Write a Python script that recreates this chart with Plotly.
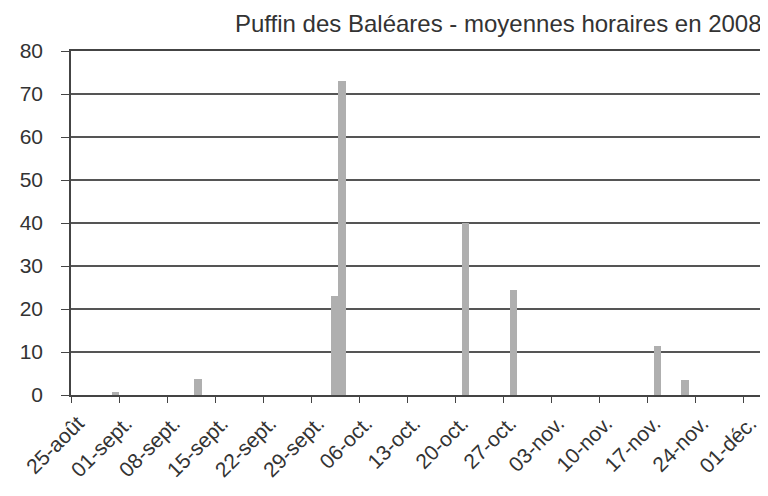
import plotly.graph_objects as go

# Data
bar_dates = ["2008-08-31", "2008-09-12", "2008-10-02", "2008-10-03",
             "2008-10-21", "2008-10-28", "2008-11-18", "2008-11-22"]
bar_values = [0.8, 3.8, 23, 73, 40, 24.5, 11.5, 3.5]

tick_dates = ["2008-08-25", "2008-09-01", "2008-09-08", "2008-09-15", "2008-09-22",
              "2008-09-29", "2008-10-06", "2008-10-13", "2008-10-20", "2008-10-27",
              "2008-11-03", "2008-11-10", "2008-11-17", "2008-11-24", "2008-12-01"]
tick_labels = ["25-août", "01-sept.", "08-sept.", "15-sept.", "22-sept.",
               "29-sept.", "06-oct.", "13-oct.", "20-oct.", "27-oct.",
               "03-nov.", "10-nov.", "17-nov.", "24-nov.", "01-déc."]

title_text = "Puffin des Baléares - moyennes horaires en 2008"

DAY_MS = 86400000

fig = go.Figure()
fig.add_trace(go.Bar(
    x=bar_dates, y=bar_values,
    xperiod=DAY_MS, xperiodalignment="middle",
    width=1.1 * DAY_MS,
    marker=dict(color="#afafaf", line=dict(width=0)),
))

axis_font = dict(family="Liberation Sans, Arial, sans-serif", size=21, color="#333333")

# page body has an 8px margin, so the figure is sized to fit the window
fig.update_layout(
    width=760, height=488,
    margin=dict(l=63, r=4, t=43, b=101),
    paper_bgcolor="white", plot_bgcolor="white",
    showlegend=False,
    bargap=0,
    xaxis=dict(
        type="date", automargin=False,
        range=["2008-08-25", "2008-12-04"],
        tickmode="array", tickvals=tick_dates, ticktext=tick_labels,
        tickangle=-45, tickfont=axis_font, ticklabelshift=7,
        ticks="outside", ticklen=6, tickcolor="#444444", tickwidth=1.2,
        showgrid=False, zeroline=False,
        showline=True, linecolor="#444444", linewidth=1.5, mirror=True,
    ),
    yaxis=dict(
        range=[0, 80], dtick=10, tickfont=axis_font, automargin=False,
        ticks="outside", ticklen=8, tickcolor="#444444", tickwidth=1.2,
        ticklabelstandoff=14,
        showgrid=True, gridcolor="#555555", gridwidth=1.5,
        zeroline=False,
        showline=True, linecolor="#444444", linewidth=1.5, mirror=True,
    ),
    annotations=[dict(
        text=title_text, xref="paper", yref="paper",
        x=1.0, y=1.0, xanchor="right", yanchor="bottom", yshift=12,
        showarrow=False,
        font=dict(family="Liberation Sans, Arial, sans-serif", size=24, color="#333333"),
    )],
)

fig.write_html("out.html")
